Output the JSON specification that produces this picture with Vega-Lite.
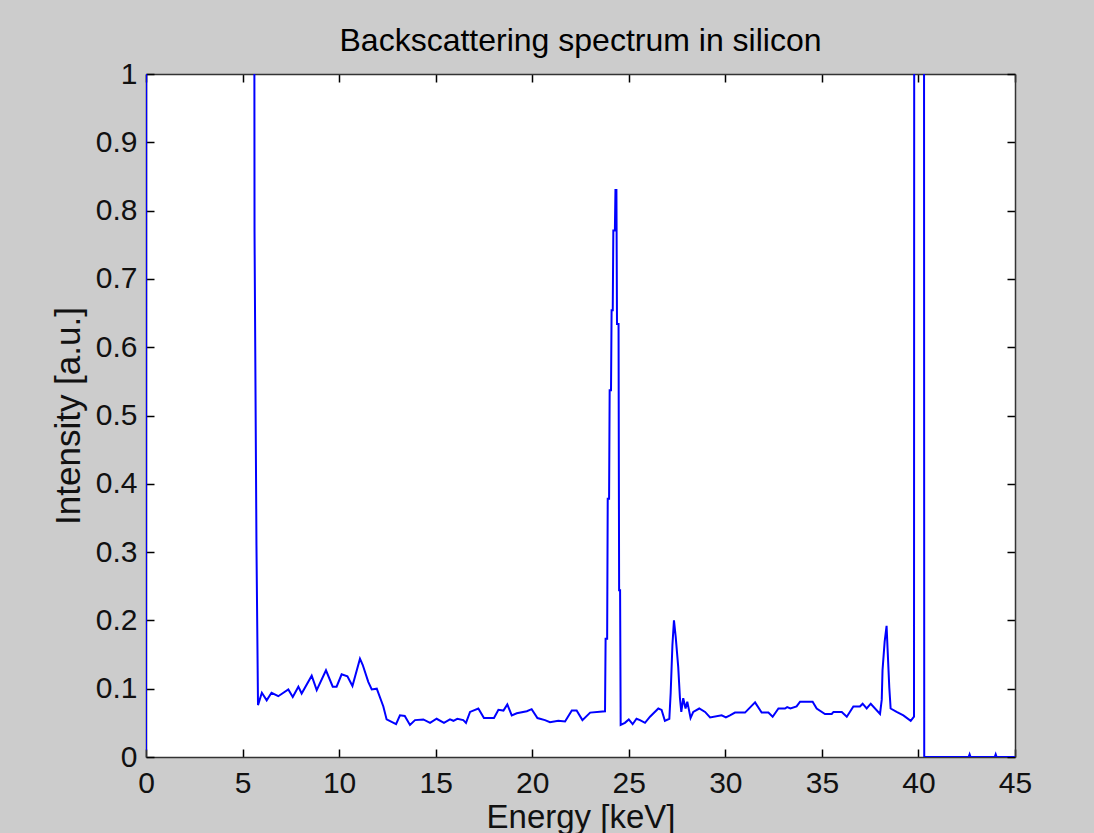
{
  "$schema": "https://vega.github.io/schema/vega-lite/v6.json",
  "width": 869,
  "height": 683,
  "autosize": {"type": "none"},
  "padding": {"left": 146, "top": 74, "right": 79, "bottom": 76},
  "background": "#cccccc",
  "title": {"text": "Backscattering spectrum in silicon", "fontSize": 32, "font": "Liberation Sans", "fontWeight": "normal", "color": "#000000", "offset": 1, "anchor": "middle"},
  "config": {
    "view": {"fill": "white", "stroke": null},
    "axis": {
      "domainColor": "#333333", "domainWidth": 1.5, "tickColor": "#000000", "tickWidth": 1.5, "tickSize": -8,
      "labelFont": "Liberation Sans", "labelFontSize": 30, "labelColor": "#111111",
      "titleFont": "Liberation Sans", "titleFontSize": 33, "titleFontWeight": "normal", "titleColor": "#111111",
      "grid": false
    }
  },
  "data": {"values": [
    {"energy": 0, "intensity": 0.01},
    {"energy": 0.03, "intensity": 3},
    {"energy": 5.55, "intensity": 3},
    {"energy": 5.62, "intensity": 0.77},
    {"energy": 5.72, "intensity": 0.31},
    {"energy": 5.8, "intensity": 0.076},
    {"energy": 6.0, "intensity": 0.094},
    {"energy": 6.25, "intensity": 0.083},
    {"energy": 6.5, "intensity": 0.094},
    {"energy": 6.85, "intensity": 0.089},
    {"energy": 7.37, "intensity": 0.099},
    {"energy": 7.6, "intensity": 0.088},
    {"energy": 7.89, "intensity": 0.103},
    {"energy": 8.06, "intensity": 0.093},
    {"energy": 8.58, "intensity": 0.119},
    {"energy": 8.84, "intensity": 0.098},
    {"energy": 9.32, "intensity": 0.127},
    {"energy": 9.67, "intensity": 0.103},
    {"energy": 9.87, "intensity": 0.103},
    {"energy": 10.13, "intensity": 0.121},
    {"energy": 10.43, "intensity": 0.118},
    {"energy": 10.69, "intensity": 0.104},
    {"energy": 11.08, "intensity": 0.144},
    {"energy": 11.22, "intensity": 0.135},
    {"energy": 11.51, "intensity": 0.11},
    {"energy": 11.69, "intensity": 0.099},
    {"energy": 11.95, "intensity": 0.1},
    {"energy": 12.29, "intensity": 0.074},
    {"energy": 12.46, "intensity": 0.055},
    {"energy": 12.95, "intensity": 0.048},
    {"energy": 13.15, "intensity": 0.061},
    {"energy": 13.4, "intensity": 0.06},
    {"energy": 13.67, "intensity": 0.047},
    {"energy": 13.93, "intensity": 0.054},
    {"energy": 14.36, "intensity": 0.055},
    {"energy": 14.71, "intensity": 0.05},
    {"energy": 15.05, "intensity": 0.056},
    {"energy": 15.43, "intensity": 0.05},
    {"energy": 15.74, "intensity": 0.055},
    {"energy": 15.92, "intensity": 0.053},
    {"energy": 16.12, "intensity": 0.056},
    {"energy": 16.43, "intensity": 0.054},
    {"energy": 16.57, "intensity": 0.05},
    {"energy": 16.78, "intensity": 0.066},
    {"energy": 17.21, "intensity": 0.071},
    {"energy": 17.5, "intensity": 0.057},
    {"energy": 18.02, "intensity": 0.057},
    {"energy": 18.25, "intensity": 0.069},
    {"energy": 18.51, "intensity": 0.068},
    {"energy": 18.71, "intensity": 0.077},
    {"energy": 18.94, "intensity": 0.061},
    {"energy": 19.2, "intensity": 0.064},
    {"energy": 19.72, "intensity": 0.067},
    {"energy": 19.97, "intensity": 0.07},
    {"energy": 20.27, "intensity": 0.057},
    {"energy": 20.66, "intensity": 0.054},
    {"energy": 20.92, "intensity": 0.051},
    {"energy": 21.35, "intensity": 0.053},
    {"energy": 21.7, "intensity": 0.052},
    {"energy": 22.05, "intensity": 0.068},
    {"energy": 22.3, "intensity": 0.068},
    {"energy": 22.6, "intensity": 0.054},
    {"energy": 23.0, "intensity": 0.065},
    {"energy": 23.77, "intensity": 0.067},
    {"energy": 23.8, "intensity": 0.173},
    {"energy": 23.88, "intensity": 0.173},
    {"energy": 23.91, "intensity": 0.378},
    {"energy": 23.98, "intensity": 0.378},
    {"energy": 24.01, "intensity": 0.537},
    {"energy": 24.08, "intensity": 0.537},
    {"energy": 24.11, "intensity": 0.654},
    {"energy": 24.17, "intensity": 0.654},
    {"energy": 24.2, "intensity": 0.771},
    {"energy": 24.28, "intensity": 0.771},
    {"energy": 24.31, "intensity": 0.83},
    {"energy": 24.36, "intensity": 0.83},
    {"energy": 24.39, "intensity": 0.634},
    {"energy": 24.47, "intensity": 0.634},
    {"energy": 24.5, "intensity": 0.244},
    {"energy": 24.55, "intensity": 0.244},
    {"energy": 24.58, "intensity": 0.047},
    {"energy": 24.8, "intensity": 0.05},
    {"energy": 25.0, "intensity": 0.055},
    {"energy": 25.2, "intensity": 0.048},
    {"energy": 25.4, "intensity": 0.056},
    {"energy": 25.58, "intensity": 0.054},
    {"energy": 25.84, "intensity": 0.05},
    {"energy": 26.1, "intensity": 0.059},
    {"energy": 26.53, "intensity": 0.071},
    {"energy": 26.7, "intensity": 0.069},
    {"energy": 26.87, "intensity": 0.053},
    {"energy": 27.1, "intensity": 0.056},
    {"energy": 27.17, "intensity": 0.094},
    {"energy": 27.26, "intensity": 0.164},
    {"energy": 27.34, "intensity": 0.2},
    {"energy": 27.43, "intensity": 0.176},
    {"energy": 27.56, "intensity": 0.132},
    {"energy": 27.65, "intensity": 0.086},
    {"energy": 27.72, "intensity": 0.066},
    {"energy": 27.82, "intensity": 0.086},
    {"energy": 27.94, "intensity": 0.071},
    {"energy": 28.03, "intensity": 0.081},
    {"energy": 28.2, "intensity": 0.057},
    {"energy": 28.34, "intensity": 0.066},
    {"energy": 28.65, "intensity": 0.071},
    {"energy": 28.95, "intensity": 0.066},
    {"energy": 29.21, "intensity": 0.058},
    {"energy": 29.81, "intensity": 0.061},
    {"energy": 30.03, "intensity": 0.058},
    {"energy": 30.24, "intensity": 0.061},
    {"energy": 30.5, "intensity": 0.065},
    {"energy": 31.02, "intensity": 0.065},
    {"energy": 31.54, "intensity": 0.08},
    {"energy": 31.88, "intensity": 0.065},
    {"energy": 32.23, "intensity": 0.065},
    {"energy": 32.45, "intensity": 0.059},
    {"energy": 32.75, "intensity": 0.071},
    {"energy": 33.09, "intensity": 0.071},
    {"energy": 33.2, "intensity": 0.073},
    {"energy": 33.37, "intensity": 0.071},
    {"energy": 33.69, "intensity": 0.074},
    {"energy": 33.87, "intensity": 0.081},
    {"energy": 34.52, "intensity": 0.081},
    {"energy": 34.73, "intensity": 0.071},
    {"energy": 35.16, "intensity": 0.063},
    {"energy": 35.51, "intensity": 0.063},
    {"energy": 35.6, "intensity": 0.066},
    {"energy": 36.03, "intensity": 0.066},
    {"energy": 36.29, "intensity": 0.059},
    {"energy": 36.63, "intensity": 0.074},
    {"energy": 36.97, "intensity": 0.074},
    {"energy": 37.11, "intensity": 0.078},
    {"energy": 37.32, "intensity": 0.071},
    {"energy": 37.53, "intensity": 0.078},
    {"energy": 38.01, "intensity": 0.063},
    {"energy": 38.1, "intensity": 0.084},
    {"energy": 38.14, "intensity": 0.127},
    {"energy": 38.25, "intensity": 0.169},
    {"energy": 38.35, "intensity": 0.192},
    {"energy": 38.4, "intensity": 0.159},
    {"energy": 38.49, "intensity": 0.102},
    {"energy": 38.56, "intensity": 0.071},
    {"energy": 38.87, "intensity": 0.066},
    {"energy": 39.22, "intensity": 0.061},
    {"energy": 39.6, "intensity": 0.053},
    {"energy": 39.77, "intensity": 0.059},
    {"energy": 39.8, "intensity": 3},
    {"energy": 40.27, "intensity": 3},
    {"energy": 40.3, "intensity": 0},
    {"energy": 42.6, "intensity": 0},
    {"energy": 42.65, "intensity": 0.004},
    {"energy": 42.7, "intensity": 0},
    {"energy": 43.95, "intensity": 0},
    {"energy": 44.0, "intensity": 0.004},
    {"energy": 44.05, "intensity": 0},
    {"energy": 45, "intensity": 0}
  ]},
  "layer": [
    {
      "mark": {"type": "line", "color": "#0000ff", "strokeWidth": 2, "clip": true},
      "encoding": {
        "x": {"field": "energy", "type": "quantitative", "scale": {"domain": [0, 45], "nice": false, "zero": false},
              "axis": {"orient": "bottom", "title": "Energy [keV]", "values": [0,5,10,15,20,25,30,35,40,45], "format": "~g", "labelPadding": 19, "titlePadding": 3, "labelFlush": false}},
        "y": {"field": "intensity", "type": "quantitative", "scale": {"domain": [0, 1], "nice": false},
              "axis": {"orient": "left", "title": "Intensity [a.u.]", "titleFontSize": 35, "values": [0,0.1,0.2,0.3,0.4,0.5,0.6,0.7,0.8,0.9,1], "format": "~g", "labelPadding": 17, "titlePadding": 9, "labelFlush": false}}
      }
    },
    {
      "mark": {"type": "line", "opacity": 0, "clip": true},
      "encoding": {
        "x": {"field": "energy", "type": "quantitative",
              "axis": {"orient": "top", "title": null, "labels": false, "values": [0,5,10,15,20,25,30,35,40,45]}},
        "y": {"field": "intensity", "type": "quantitative",
              "axis": {"orient": "right", "title": null, "labels": false, "values": [0,0.1,0.2,0.3,0.4,0.5,0.6,0.7,0.8,0.9,1]}}
      }
    }
  ],
  "resolve": {"axis": {"x": "independent", "y": "independent"}}
}
